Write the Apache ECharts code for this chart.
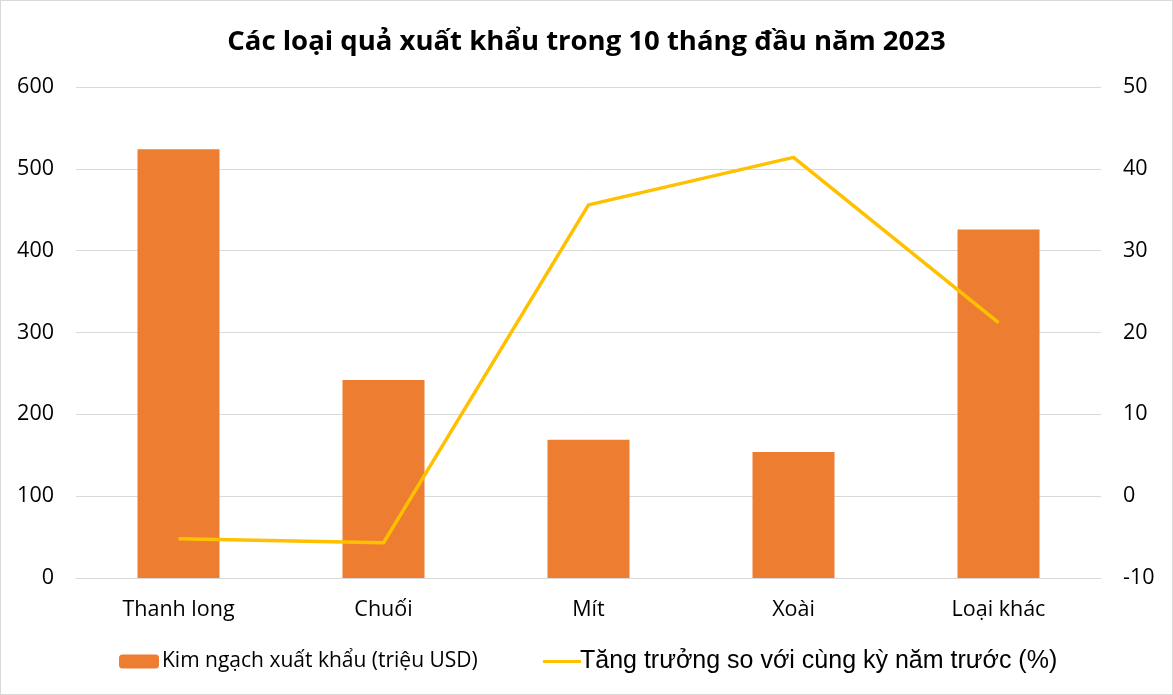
<!DOCTYPE html>
<html>
<head>
<meta charset="utf-8">
<script src="https://cdn.jsdelivr.net/npm/echarts@6/dist/echarts.min.js"></script>
<style>
  html, body { margin: 0; padding: 0; background: #fff; }
  #chart { width: 1171px; height: 693px; border: 1px solid #d9d9d9; }
</style>
</head>
<body>
<div id="chart"></div>
<script>
  // dữ liệu
  var categories = ['Thanh long', 'Chuối', 'Mít', 'Xoài', 'Loại khác']
  var exportValues = [524, 242, 169, 154, 426]
  var growthValues = [-5.2, -5.7, 35.6, 41.4, 21.2]
  var barName = 'Kim ngạch xuất khẩu (triệu USD)'
  var lineName = 'Tăng trưởng so với cùng kỳ năm trước (%)'

  var myChart = echarts.init(document.getElementById('chart'))
  var option = {
    animation: false,
    title: {
      text: 'Các loại quả xuất khẩu trong 10 tháng đầu năm 2023',
      left: 'center',
      top: 22,
      textStyle: { fontFamily: 'Open Sans', fontSize: 27.5, fontWeight: 'bold', color: '#000' }
    },
    legend: [
      {
        data: [barName],
        left: 113,
        top: 645,
        itemWidth: 40,
        itemHeight: 14,
        itemGap: 4,
        textStyle: { fontFamily: 'Open Sans', fontSize: 21, color: '#000', padding: [0, 0, 0, -2] }
      },
      {
        data: [{ name: lineName, icon: 'rect' }],
        left: 537,
        top: 643,
        itemWidth: 38,
        itemHeight: 3,
        textStyle: { fontFamily: 'Liberation Sans', fontSize: 25, color: '#000', padding: [0, 0, 0, -6] }
      }
    ],
    grid: { left: 75, right: 71, top: 86, bottom: 116 },
    xAxis: {
      type: 'category',
      data: categories,
      axisTick: { show: false },
      axisLine: { lineStyle: { color: '#d9d9d9' } },
      axisLabel: { fontFamily: 'Open Sans', fontSize: 21.5, color: '#000', margin: 21 }
    },
    yAxis: [
      {
        type: 'value',
        min: 0, max: 600, interval: 100,
        axisLine: { show: false },
        axisTick: { show: false },
        splitLine: { lineStyle: { color: '#d9d9d9' } },
        axisLabel: { fontFamily: 'Open Sans', fontSize: 21.5, color: '#000', margin: 22 }
      },
      {
        type: 'value',
        min: -10, max: 50, interval: 10,
        axisLine: { show: false },
        axisTick: { show: false },
        splitLine: { show: false },
        axisLabel: { fontFamily: 'Open Sans', fontSize: 21.5, color: '#000', margin: 22 }
      }
    ],
    series: [
      {
        name: barName,
        type: 'bar',
        data: exportValues,
        barWidth: '40%',
        itemStyle: { color: '#ED7D31' }
      },
      {
        name: lineName,
        type: 'line',
        yAxisIndex: 1,
        data: growthValues,
        symbol: 'none',
        lineStyle: { color: '#FFC000', width: 3.5 },
        itemStyle: { color: '#FFC000' }
      }
    ]
  }
  myChart.setOption(option)
</script>
</body>
</html>
